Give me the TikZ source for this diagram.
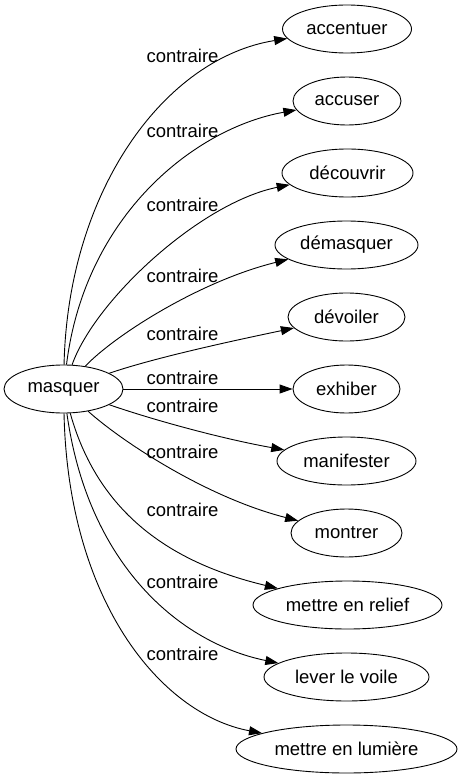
\documentclass[tikz,border=0pt]{standalone}
\usepackage{fontspec}
\setmainfont{Liberation Sans}
\usetikzlibrary{arrows.meta,shapes.geometric}
\begin{document}
\begin{tikzpicture}[x=1bp,y=-1bp,
  word/.style={draw,ellipse,inner sep=0pt,minimum height=48bp,line width=0.9bp,font=\fontsize{18.5bp}{22bp}\selectfont},
  rel/.style={inner sep=0pt,font=\fontsize{18.5bp}{22bp}\selectfont},
  link/.style={-{Triangle[length=13bp,width=9bp]},line width=0.9bp}]
\useasboundingbox (0,0) rectangle (463,779);
\node[word,minimum width=119bp] (m) at (63.5,389) {masquer};
\node[word,minimum width=129bp] (a1) at (347,29) {accentuer};
\node[word,minimum width=108bp] (a2) at (347,101) {accuser};
\node[word,minimum width=131bp] (a3) at (347.5,173) {découvrir};
\node[word,minimum width=143bp] (a4) at (346.5,245) {démasquer};
\node[word,minimum width=117bp] (a5) at (346.5,317) {dévoiler};
\node[word,minimum width=107bp] (a6) at (346.5,389) {exhiber};
\node[word,minimum width=139bp] (a7) at (346.5,461) {manifester};
\node[word,minimum width=111bp] (a8) at (346.5,533) {montrer};
\node[word,minimum width=189bp] (a9) at (347.5,605) {mettre en relief};
\node[word,minimum width=165bp] (a10) at (346.5,677) {lever le voile};
\node[word,minimum width=221bp] (a11) at (346.5,749) {mettre en lumière};

\draw[link] (m) .. controls (68,190) and (165,58) .. (a1);
\draw[link] (m) .. controls (85,215) and (195,128) .. (a2);
\draw[link] (m) .. controls (95,300) and (200,203) .. (a3);
\draw[link] (m) .. controls (115,335) and (200,281) .. (a4);
\draw[link] (m) .. controls (156.5,357) and (241.5,339) .. (a5);
\draw[link] (m) -- (a6);
\draw[link] (m) .. controls (156.5,421) and (223.5,439) .. (a7);
\draw[link] (m) .. controls (120,440) and (205,497) .. (a8);
\draw[link] (m) .. controls (100,520) and (180,565) .. (a9);
\draw[link] (m) .. controls (88,565) and (180,643) .. (a10);
\draw[link] (m) .. controls (68,600) and (160,714) .. (a11);

\node[rel] (l1) at (182.5,56) {contraire};
\node[rel] (l2) at (182.5,131) {contraire};
\node[rel] (l3) at (182.5,205) {contraire};
\node[rel] (l4) at (182.5,276) {contraire};
\node[rel] (l5) at (182.5,334) {contraire};
\node[rel] (l6) at (182.5,378) {contraire};
\node[rel] (l7) at (182.5,405.5) {contraire};
\node[rel] (l8) at (182.5,451.5) {contraire};
\node[rel] (l9) at (182.5,510) {contraire};
\node[rel] (l10) at (182.5,581.5) {contraire};
\node[rel] (l11) at (182.5,654) {contraire};
\end{tikzpicture}
\end{document}
